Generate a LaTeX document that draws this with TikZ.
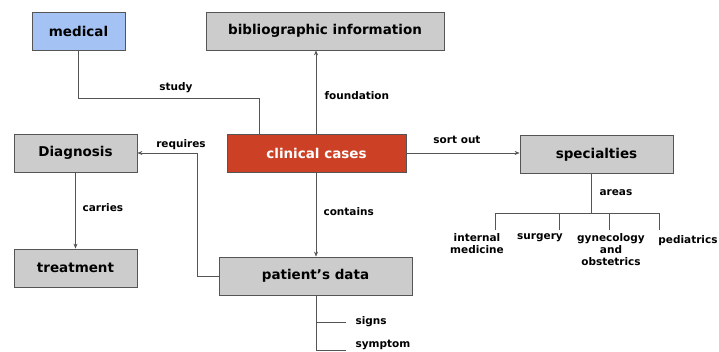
\documentclass[tikz,border=0pt]{standalone}
\usepackage{fontspec}
\setmainfont{DejaVu Sans}
\usetikzlibrary{arrows.meta}

\definecolor{boxgray}{HTML}{CCCCCC}
\definecolor{boxblue}{HTML}{A4C2F4}
\definecolor{boxred}{HTML}{CC4125}
\definecolor{linegray}{HTML}{555555}

\tikzset{
  concept/.style={draw=linegray, thick, fill=boxgray, minimum height=38pt,
    font=\bfseries\fontsize{13.5}{16}\selectfont, text=black},
  link/.style={draw=linegray, semithick, -{Stealth[length=5pt,width=4pt]}},
  plain/.style={draw=linegray, semithick},
  rel/.style={font=\bfseries\fontsize{10.5}{11}\selectfont},
  leaf/.style={font=\bfseries\fontsize{10.5}{12}\selectfont, align=center, anchor=north}
}

\begin{document}
\begin{tikzpicture}[x=1pt,y=-1pt]
            \useasboundingbox (0,0) rectangle (719,352);
            % boxes
            \node[concept, fill=boxblue, minimum width=93pt] (medical) at (78.5,31) {medical};
            \node[concept, minimum width=238pt] (biblio) at (325,31) {bibliographic information};
            \node[concept, minimum width=123pt] (diagnosis) at (75.5,153) {Diagnosis};
            \node[concept, fill=boxred, text=white, minimum width=179pt] (cases) at (316.5,153) {clinical cases};
            \node[concept, minimum width=153pt] (specialties) at (596.5,154.5) {specialties};
            \node[concept, minimum width=123pt] (treatment) at (75.5,268) {treatment};
            \node[concept, minimum width=193pt] (patient) at (315.5,276) {patient's data};

            % helper points
            \coordinate (studyA) at (78.5,98);
            \coordinate (studyB) at (259,98);
            \coordinate (reqA) at (197,276);
            \coordinate (reqB) at (197,153);
            \coordinate (areasTop) at (591,213);
            \coordinate (signsEnd) at (346,322);
            \coordinate (symEnd) at (346,350);

            % connectors
            \draw[plain] (medical.south) -- (studyA) -- (studyB) -- (cases.north -| studyB);
            \node[rel] (lstudy) at (176,88) {study};

            \draw[link] (cases.north -| 316,0) -- (biblio.south -| 316,0);
            \node[rel, anchor=west] (lfound) at (321,96) {foundation};

            \draw[link] (cases.east) -- (specialties.west |- cases.east);
            \node[rel] (lsort) at (457,140) {sort out};

            \draw[link] (cases.south -| 316,0) -- (patient.north -| 316,0);
            \node[rel, anchor=west] (lcont) at (320,212) {contains};

            \draw[link] (patient.west) -- (reqA) -- (reqB) -- (diagnosis.east);
            \node[rel] (lreq) at (181,145) {requires};

            \draw[link] (diagnosis.south) -- (treatment.north);
            \node[rel, anchor=west] (lcarr) at (79,208) {carries};

            % areas tree
            \draw[plain] (specialties.south -| areasTop) -- (areasTop);
            \node[rel, anchor=west] (lareas) at (596,193) {areas};
            \draw[plain] (495,213) -- (659,213);
            \foreach \px in {495,559,609,659}
              \draw[plain] (\px,213) -- (\px,230);
            \node[leaf] (internal) at (477,230) {internal\\medicine};
            \node[leaf] (surgery) at (540,230) {surgery};
            \node[leaf] (gyneco) at (611,230) {gynecology\\and\\obstetrics};
            \node[leaf] (pediatrics) at (688,232) {pediatrics};

            % patient data branches
            \draw[plain] (patient.south -| 316,0) -- (316,350) -- (symEnd);
            \draw[plain] (316,322) -- (signsEnd);
            \node[rel, anchor=west] (signs) at (352,322) {signs};
            \node[rel, anchor=west] (symptom) at (352,345) {symptom};
\end{tikzpicture}
\end{document}
